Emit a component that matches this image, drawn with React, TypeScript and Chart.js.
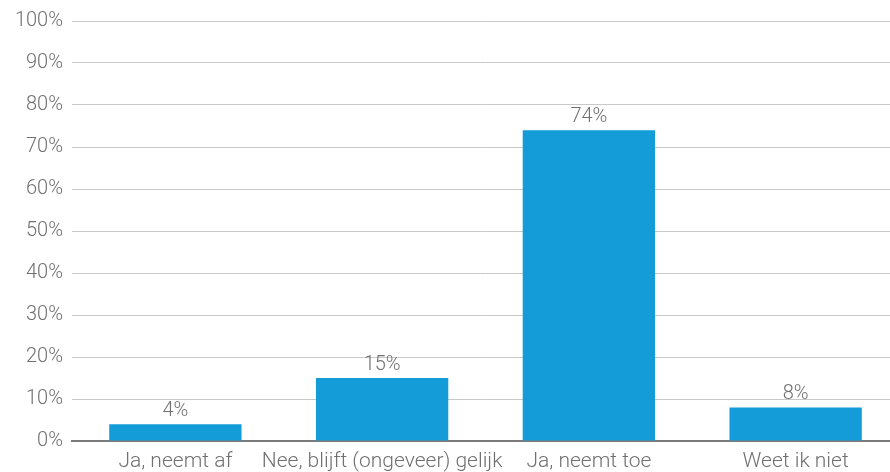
import React, { useEffect, useRef } from "react";
import { Chart, registerables } from "chart.js";

Chart.register(...registerables);

const categories = ["Ja, neemt af", "Nee, blijft (ongeveer) gelijk", "Ja, neemt toe", "Weet ik niet"];
const values = [4, 15, 74, 8];
const yTicks = [0, 10, 20, 30, 40, 50, 60, 70, 80, 90, 100];

const TEXT = "#707070";
const FONT = "Roboto";

const labelPlugin = {
  id: "barLabels",
  afterDatasetsDraw(chart: any) {
    const ctx = chart.ctx;
    const meta = chart.getDatasetMeta(0);
    ctx.save();
    ctx.fillStyle = TEXT;
    ctx.font = `300 20px ${FONT}`;
    ctx.textAlign = "center";
    ctx.textBaseline = "bottom";
    meta.data.forEach((el: any, i: number) => {
      ctx.fillText(values[i] + "%", el.x, el.y - 3);
    });
    ctx.restore();
  },
};

export default function App() {
  const ref = useRef<HTMLCanvasElement>(null);
  useEffect(() => {
    if (!ref.current) return;
    const chart = new Chart(ref.current, {
      type: "bar",
      data: {
        labels: categories,
        datasets: [
          {
            data: values,
            backgroundColor: "#139cd8",
            barPercentage: 0.64,
            categoryPercentage: 1,
          },
        ],
      },
      options: {
        animation: false,
        responsive: true,
        maintainAspectRatio: false,
        layout: { padding: { top: 10, bottom: 0, left: 0, right: 0 } },
        plugins: { legend: { display: false }, tooltip: { enabled: false } },
        scales: {
          x: {
            grid: { display: false, drawTicks: false },
            border: { display: true, color: "#7a7a7a", width: 2 },
            afterFit(scale: any) {
              scale.height = 31;
            },
            ticks: { color: TEXT, font: { family: FONT, size: 21, weight: "300" }, padding: 8, maxRotation: 0, autoSkip: false },
          },
          y: {
            min: 0,
            max: 100,
            afterFit(scale: any) {
              scale.width = 72;
            },
            afterBuildTicks(scale: any) {
              scale.ticks = yTicks.map((v) => ({ value: v }));
            },
            grid: { color: "#c8c8c8", lineWidth: 1, drawTicks: false },
            border: { display: false },
            ticks: {
              color: TEXT,
              font: { family: FONT, size: 20, weight: "300" },
              padding: 9,
              callback: (v: any) => v + "%",
            },
          },
        },
      },
      plugins: [labelPlugin],
    });
    return () => chart.destroy();
  }, []);
  return (
    <div style={{ position: "fixed", left: 0, top: 0, width: 890, height: 472, overflow: "hidden", background: "#fff" }}>
      <div style={{ width: 899, height: 472 }}>
        <canvas ref={ref} />
      </div>
    </div>
  );
}
